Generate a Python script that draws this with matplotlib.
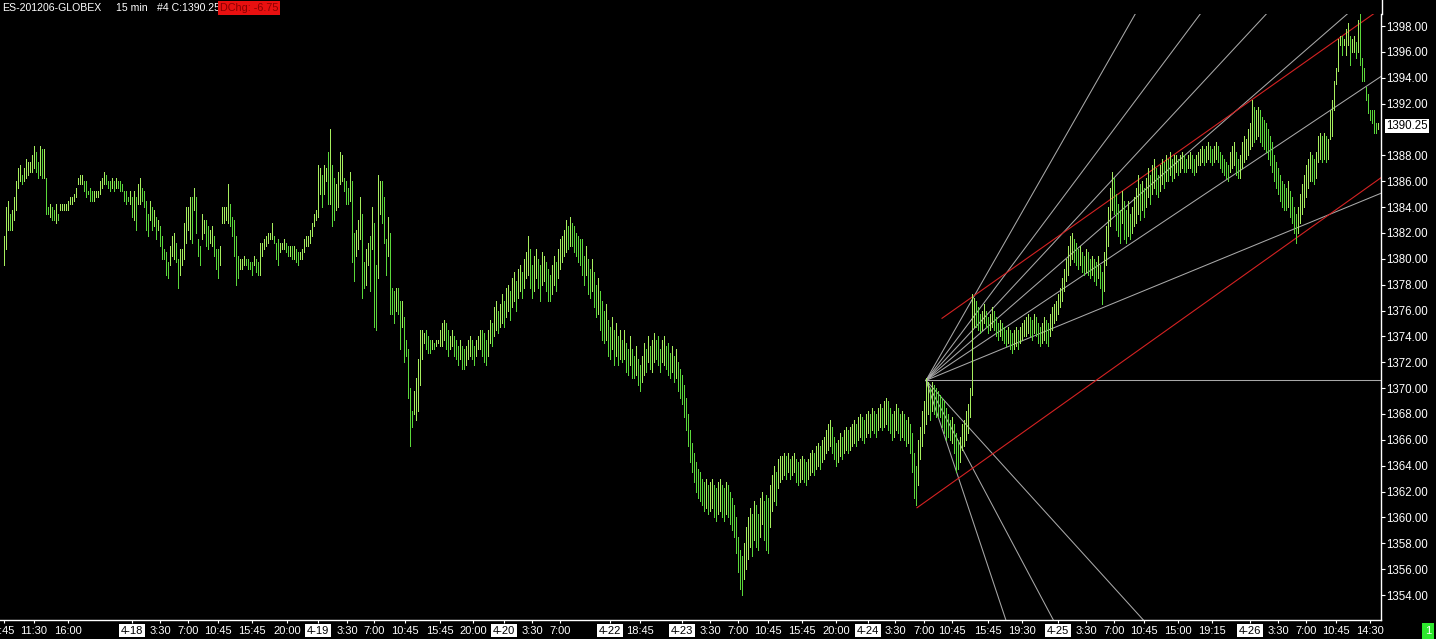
import matplotlib
matplotlib.use("Agg")
import matplotlib.pyplot as plt
from matplotlib.lines import Line2D
from matplotlib.transforms import blended_transform_factory
import numpy as np

plt.rcParams["font.family"] = ["Liberation Sans", "DejaVu Sans"]

# 15 min ES bars, high / low per bar (oldest first)
bar_high = [
    1381.75, 1384.0, 1384.5, 1383.5, 1383.75, 1384.75, 1386.0, 1387.0, 1387.25, 1386.5,
    1387.0, 1387.75, 1387.5, 1387.5, 1388.0, 1388.75, 1388.25, 1387.5, 1388.75, 1388.5,
    1388.5, 1386.25, 1384.0, 1384.25, 1384.0, 1383.75, 1384.25, 1383.5, 1384.25, 1384.25,
    1384.25, 1384.25, 1384.5, 1384.75, 1384.75, 1385.0, 1385.5, 1386.25, 1386.5, 1386.5,
    1386.0, 1386.0, 1385.25, 1385.5, 1385.25, 1385.25, 1385.25, 1385.25, 1386.0, 1386.25,
    1386.75, 1386.5, 1386.0, 1386.0, 1386.25, 1386.0, 1386.25, 1386.0, 1386.0, 1385.75,
    1385.25, 1385.25, 1384.75, 1385.25, 1384.75, 1385.25, 1384.75, 1385.75, 1386.25, 1385.5,
    1385.25, 1384.5, 1383.5, 1384.5, 1384.0, 1383.75, 1383.25, 1383.0, 1382.5, 1381.75,
    1380.75, 1380.5, 1379.75, 1381.0, 1381.75, 1382.0, 1381.25, 1380.0, 1380.75, 1380.75,
    1382.75, 1384.0, 1384.0, 1384.75, 1384.75, 1385.5, 1384.75, 1381.5, 1381.0, 1383.5,
    1383.0, 1383.0, 1382.5, 1382.25, 1382.5, 1381.75, 1380.75, 1380.75, 1381.0, 1384.0,
    1384.0, 1384.0, 1385.75, 1384.25, 1383.25, 1383.0, 1381.75, 1380.25, 1380.0, 1380.0,
    1380.25, 1380.0, 1380.0, 1379.75, 1379.75, 1380.25, 1380.0, 1379.75, 1381.25, 1381.25,
    1381.5, 1381.75, 1382.0, 1382.0, 1382.75, 1381.75, 1381.25, 1381.5, 1381.25, 1381.25,
    1381.5, 1381.25, 1381.0, 1381.0, 1381.0, 1381.0, 1380.75, 1380.5, 1380.5, 1380.75,
    1381.5, 1381.75, 1381.75, 1382.25, 1382.75, 1383.5, 1383.75, 1387.25, 1387.0, 1386.5,
    1387.25, 1387.0, 1388.25, 1390.0, 1387.25, 1386.25, 1385.75, 1386.75, 1388.25, 1388.0,
    1386.25, 1386.0, 1385.5, 1386.75, 1386.0, 1382.0, 1382.25, 1383.0, 1384.75, 1383.5,
    1379.75, 1380.75, 1381.25, 1381.75, 1384.0, 1382.75, 1379.5, 1386.5, 1386.0, 1386.0,
    1384.75, 1381.5, 1383.25, 1382.0, 1377.75, 1377.5, 1377.75, 1377.75, 1376.75, 1376.75,
    1375.5, 1373.75, 1373.0, 1370.0, 1368.25, 1369.75, 1370.75, 1372.25, 1374.5, 1374.5,
    1374.25, 1374.5, 1374.0, 1373.75, 1373.75, 1373.5, 1373.75, 1373.75, 1374.5, 1375.0,
    1375.25, 1375.0, 1374.5, 1374.0, 1374.5, 1374.0, 1373.75, 1373.25, 1373.75, 1373.25,
    1373.0, 1373.25, 1373.75, 1374.0, 1373.75, 1373.25, 1373.75, 1374.0, 1374.5, 1374.5,
    1374.25, 1373.75, 1374.5, 1375.25, 1375.0, 1376.25, 1376.75, 1376.0, 1376.5, 1377.25,
    1376.75, 1377.75, 1378.0, 1377.5, 1378.5, 1379.0, 1378.25, 1379.25, 1379.5, 1379.0,
    1380.0, 1380.5, 1381.75, 1380.75, 1379.5, 1380.25, 1380.75, 1380.0, 1379.5, 1380.5,
    1380.25, 1379.75, 1379.25, 1378.75, 1379.5, 1380.25, 1379.75, 1380.75, 1381.5, 1381.75,
    1382.25, 1383.0, 1382.5, 1383.25, 1382.75, 1382.5, 1382.0, 1381.75, 1381.5, 1381.5,
    1380.25, 1381.0, 1380.0, 1379.25, 1380.0, 1379.0, 1378.0, 1378.5, 1377.5, 1376.75,
    1376.0, 1376.5, 1375.25, 1374.75, 1375.5, 1374.5, 1375.0, 1374.0, 1374.5, 1373.75,
    1374.5, 1373.5, 1373.0, 1374.0, 1373.0, 1372.5, 1373.25, 1372.25, 1371.75, 1372.5,
    1373.5, 1373.0, 1374.0, 1373.25, 1373.75, 1374.25, 1373.75, 1374.0, 1373.0, 1373.75,
    1374.0, 1373.25, 1373.5, 1372.75, 1373.25, 1372.5, 1373.0, 1372.0, 1371.5, 1371.0,
    1370.25, 1369.25, 1368.0, 1366.75, 1365.75, 1365.0, 1364.25, 1363.75, 1363.5, 1363.0,
    1362.75, 1363.0, 1362.5, 1362.75, 1363.0, 1362.5, 1362.25, 1362.75, 1363.0, 1362.5,
    1362.25, 1362.75, 1362.5, 1362.0, 1361.5, 1361.0, 1360.0, 1358.5, 1357.5, 1357.0,
    1358.0, 1359.25, 1360.0, 1360.75, 1360.25, 1361.25, 1361.0, 1360.25, 1361.5, 1362.0,
    1361.25, 1361.75, 1361.5, 1362.5, 1363.25, 1364.0, 1363.5, 1364.5, 1364.75, 1364.75,
    1365.0, 1364.75, 1365.0, 1364.5, 1364.75, 1365.0, 1364.5, 1364.25, 1364.5, 1364.75,
    1364.5, 1364.25, 1364.5, 1365.0, 1365.25, 1365.0, 1365.5, 1365.75, 1365.5, 1366.0,
    1366.25, 1366.75, 1367.25, 1367.5, 1367.0, 1366.25, 1365.75, 1366.0, 1366.5, 1366.25,
    1366.75, 1367.0, 1366.75, 1367.0, 1367.25, 1367.5, 1367.25, 1367.75, 1368.0, 1367.75,
    1367.5, 1368.0, 1368.25, 1368.0, 1368.5, 1368.25, 1368.0, 1368.5, 1368.75, 1368.5,
    1369.0, 1369.25, 1369.0, 1368.5, 1368.0, 1368.25, 1368.75, 1368.5, 1368.0, 1368.25,
    1368.0, 1367.5, 1367.75, 1367.25, 1366.5, 1365.0, 1364.0, 1366.0, 1367.0, 1368.25,
    1369.0, 1370.75, 1370.5, 1370.0, 1370.5, 1370.25, 1370.0, 1369.75, 1369.5, 1369.25,
    1369.0, 1368.5, 1368.0, 1367.5, 1367.75, 1367.25, 1366.5, 1366.0, 1366.25, 1367.25,
    1367.5, 1368.25, 1368.75, 1370.0, 1377.25, 1377.0, 1376.75, 1376.25, 1375.75, 1376.0,
    1376.5, 1376.0, 1375.5, 1375.75, 1376.25, 1376.0, 1375.5, 1375.0, 1375.25, 1375.0,
    1374.75, 1374.5, 1374.75, 1374.5, 1374.25, 1374.5, 1374.75, 1374.5, 1374.75, 1375.0,
    1375.25, 1375.5, 1375.75, 1375.5, 1375.25, 1375.75, 1375.5, 1375.0, 1374.75, 1375.0,
    1375.5, 1375.25, 1375.0, 1375.75, 1376.25, 1376.5, 1376.75, 1377.25, 1377.75, 1378.5,
    1379.25, 1380.0, 1381.0, 1381.75, 1382.0, 1381.5, 1381.25, 1380.75, 1381.0, 1380.5,
    1380.25, 1380.75, 1380.5, 1380.0, 1380.25, 1380.0, 1379.75, 1380.25, 1379.5, 1379.0,
    1380.5, 1382.5, 1384.0, 1385.5, 1386.75, 1386.25, 1385.0, 1384.25, 1383.75, 1385.25,
    1384.5, 1383.75, 1384.5, 1383.5, 1384.0, 1384.75, 1385.5, 1386.5, 1385.75, 1386.0,
    1385.5, 1386.25, 1387.0, 1386.5, 1387.25, 1387.75, 1387.0, 1386.5, 1387.25, 1387.75,
    1387.5, 1388.0, 1387.75, 1388.25, 1387.75, 1388.0, 1388.0, 1387.75, 1388.0, 1388.25,
    1388.0, 1387.75, 1388.0, 1388.25, 1388.0, 1387.75, 1388.0, 1388.25, 1388.5, 1388.75,
    1388.5, 1388.75, 1389.0, 1388.75, 1388.5, 1388.75, 1389.0, 1388.75, 1388.25, 1388.0,
    1387.75, 1387.5, 1387.25, 1388.25, 1388.75, 1389.0, 1388.25, 1387.75, 1388.0, 1389.0,
    1389.5, 1389.25, 1390.0, 1390.5, 1392.25, 1391.75, 1391.5, 1391.75, 1391.5, 1391.0,
    1390.75, 1390.5, 1390.0, 1389.5, 1389.0, 1388.0, 1387.5, 1387.0, 1386.5, 1386.0,
    1385.75, 1385.5, 1386.0, 1385.25, 1384.75, 1384.0, 1383.5, 1384.0, 1385.0, 1385.75,
    1386.5, 1387.25, 1387.75, 1388.25, 1388.0, 1387.75, 1388.25, 1389.5, 1389.75, 1389.5,
    1389.75, 1389.5, 1389.25, 1391.5, 1392.25, 1393.75, 1394.75, 1397.0, 1397.25, 1397.25,
    1397.0, 1397.75, 1398.25, 1397.25, 1397.0, 1397.25, 1396.75, 1398.5, 1399.0, 1395.5,
    1394.75, 1393.25, 1392.75, 1391.5, 1391.5, 1391.5, 1390.5, 1390.5,
]
bar_low = [
    1379.5, 1380.75, 1382.25, 1382.25, 1382.25, 1383.0, 1383.75, 1385.5, 1386.0, 1385.75,
    1386.0, 1386.25, 1386.5, 1386.75, 1386.75, 1387.0, 1386.75, 1386.25, 1386.5, 1386.25,
    1386.25, 1383.5, 1383.5, 1383.25, 1383.0, 1383.0, 1382.75, 1383.0, 1383.75, 1383.75,
    1383.75, 1383.75, 1383.75, 1384.25, 1384.25, 1384.5, 1384.75, 1385.75, 1385.75, 1385.75,
    1385.25, 1384.75, 1385.0, 1384.5, 1384.5, 1384.5, 1384.75, 1384.75, 1385.0, 1385.5,
    1385.75, 1385.75, 1385.5, 1385.25, 1385.5, 1385.25, 1385.5, 1385.5, 1385.25, 1385.25,
    1384.5, 1384.25, 1384.5, 1384.25, 1383.25, 1383.0, 1382.25, 1384.25, 1384.25, 1384.5,
    1384.0, 1382.25, 1381.75, 1383.0, 1382.25, 1382.5, 1381.5, 1382.25, 1381.0, 1380.0,
    1380.0, 1378.75, 1378.5, 1379.5, 1380.25, 1380.0, 1379.75, 1377.75, 1378.75, 1379.5,
    1380.0, 1381.25, 1382.25, 1381.5, 1381.25, 1383.75, 1382.0, 1380.25, 1379.5, 1381.5,
    1382.0, 1381.0, 1380.75, 1381.25, 1381.0, 1380.25, 1379.25, 1378.5, 1379.5, 1382.75,
    1382.75, 1383.0, 1382.75, 1382.5, 1381.75, 1380.25, 1378.0, 1378.5, 1379.25, 1379.25,
    1379.5, 1379.5, 1379.25, 1379.25, 1378.75, 1379.5, 1379.0, 1378.75, 1378.75, 1380.25,
    1380.75, 1381.0, 1381.25, 1381.5, 1381.5, 1381.25, 1380.0, 1379.5, 1380.5, 1380.75,
    1380.75, 1380.5, 1380.25, 1380.25, 1380.0, 1380.0, 1379.75, 1379.5, 1380.0, 1380.0,
    1380.5, 1381.0, 1381.0, 1381.25, 1381.75, 1382.5, 1383.0, 1383.25, 1385.0, 1384.0,
    1385.0, 1386.0, 1384.25, 1384.25, 1382.5, 1383.0, 1383.75, 1384.0, 1385.75, 1386.0,
    1385.25, 1384.25, 1384.25, 1384.5, 1379.75, 1378.25, 1380.25, 1380.75, 1381.5, 1377.0,
    1377.75, 1378.0, 1379.5, 1377.5, 1380.75, 1374.75, 1374.5, 1378.5, 1383.5, 1382.75,
    1381.25, 1378.75, 1380.25, 1375.75, 1375.75, 1375.0, 1376.0, 1375.75, 1373.0, 1374.75,
    1372.0, 1372.5, 1369.25, 1365.5, 1367.0, 1368.0, 1367.5, 1368.25, 1370.25, 1372.25,
    1373.5, 1373.0, 1372.75, 1372.75, 1373.0, 1373.0, 1373.25, 1373.5, 1373.25, 1373.25,
    1373.75, 1373.0, 1372.5, 1373.0, 1373.25, 1372.5, 1372.25, 1371.75, 1372.25, 1371.5,
    1371.5, 1371.75, 1372.25, 1372.5, 1372.25, 1371.75, 1372.5, 1373.0, 1373.0, 1372.5,
    1372.0, 1371.75, 1372.5, 1373.5, 1373.25, 1374.0, 1374.5, 1374.25, 1374.75, 1375.0,
    1374.75, 1375.5, 1376.0, 1375.25, 1376.25, 1376.75, 1376.0, 1377.0, 1377.5, 1377.0,
    1377.75, 1378.5, 1378.75, 1377.75, 1377.0, 1377.5, 1378.5, 1377.75, 1376.75, 1378.0,
    1378.25, 1377.5, 1376.75, 1376.75, 1377.25, 1378.0, 1377.5, 1378.5, 1379.25, 1379.75,
    1380.25, 1380.5, 1380.75, 1381.0, 1381.0, 1380.5, 1380.25, 1379.75, 1379.5, 1378.75,
    1378.0, 1378.75, 1377.25, 1377.0, 1377.5, 1376.25, 1375.5, 1375.75, 1374.5, 1373.75,
    1373.5, 1373.75, 1372.5, 1372.25, 1373.0, 1371.75, 1372.5, 1371.75, 1372.25, 1372.0,
    1372.25, 1371.25, 1371.0, 1371.75, 1370.75, 1370.75, 1371.0, 1370.25, 1369.75, 1370.5,
    1371.0, 1371.25, 1372.0, 1371.5, 1371.25, 1372.0, 1372.25, 1371.75, 1371.25, 1372.0,
    1371.75, 1371.5, 1371.0, 1370.75, 1371.25, 1370.5, 1370.75, 1369.75, 1369.25, 1368.75,
    1367.75, 1366.75, 1365.5, 1364.25, 1363.5, 1362.75, 1362.0, 1361.5, 1361.25, 1361.0,
    1360.5, 1360.75, 1360.25, 1360.5, 1360.75, 1360.0, 1359.75, 1360.25, 1360.5, 1360.0,
    1359.75, 1360.25, 1360.0, 1359.5, 1359.0, 1358.5, 1357.25, 1355.75, 1354.5, 1354.0,
    1355.25, 1356.0, 1356.75, 1357.75, 1357.0, 1358.25, 1357.75, 1357.5, 1358.5, 1359.5,
    1358.25, 1357.5, 1357.25, 1359.25, 1360.5, 1361.25, 1361.0, 1362.25, 1362.75, 1363.0,
    1363.25, 1363.0, 1363.5, 1363.0, 1363.25, 1363.5, 1362.75, 1362.5, 1362.75, 1363.0,
    1362.75, 1362.5, 1363.0, 1363.25, 1363.5, 1363.25, 1363.75, 1364.0, 1363.75, 1364.25,
    1364.5, 1365.0, 1365.25, 1365.5, 1365.0, 1364.5, 1364.0, 1364.25, 1364.75, 1364.5,
    1365.0, 1365.25, 1365.0, 1365.25, 1365.5, 1365.75, 1365.5, 1366.0, 1366.25, 1366.0,
    1365.75, 1366.25, 1366.5, 1366.25, 1366.75, 1366.5, 1366.25, 1366.75, 1367.0, 1366.75,
    1367.0, 1367.25, 1366.75, 1366.5, 1366.0, 1366.25, 1366.75, 1366.5, 1366.0, 1366.25,
    1366.0, 1365.5, 1365.75, 1365.0, 1363.5, 1361.5, 1361.0, 1362.5, 1364.5, 1365.5,
    1366.5, 1367.25, 1368.0, 1367.5, 1368.25, 1368.0, 1367.75, 1367.75, 1367.75, 1367.0,
    1366.5, 1366.0, 1366.25, 1366.0, 1365.75, 1365.0, 1363.5, 1363.75, 1364.25, 1365.25,
    1365.5, 1366.0, 1366.5, 1367.75, 1369.5, 1374.75, 1374.75, 1374.5, 1374.25, 1374.5,
    1375.0, 1374.75, 1374.25, 1374.5, 1374.75, 1374.5, 1374.0, 1373.75, 1374.0, 1373.75,
    1373.5, 1373.25, 1373.5, 1373.0, 1372.75, 1373.0, 1373.25, 1373.0, 1373.5, 1373.75,
    1374.0, 1374.0, 1374.25, 1374.0, 1373.75, 1374.25, 1374.0, 1373.5, 1373.25, 1373.5,
    1373.75, 1373.5, 1373.25, 1374.0, 1374.5, 1375.0, 1375.25, 1375.75, 1376.25, 1376.75,
    1377.5, 1378.25, 1378.75, 1379.5, 1380.0, 1379.75, 1379.5, 1379.25, 1379.5, 1379.0,
    1378.75, 1379.0, 1378.75, 1378.5, 1378.75, 1378.25, 1378.0, 1378.5, 1377.75, 1376.5,
    1377.5, 1379.5, 1381.0, 1382.5, 1383.75, 1383.5, 1382.25, 1381.75, 1381.25, 1382.75,
    1381.5, 1381.25, 1381.75, 1381.5, 1382.0, 1382.5, 1382.75, 1383.5, 1383.0, 1383.75,
    1383.25, 1384.0, 1384.75, 1384.25, 1385.0, 1385.5, 1385.0, 1384.75, 1385.25, 1385.75,
    1385.5, 1386.0, 1386.0, 1386.5, 1386.0, 1386.25, 1386.75, 1386.5, 1386.75, 1387.0,
    1386.75, 1386.75, 1387.0, 1387.0, 1386.75, 1386.5, 1386.75, 1387.25, 1387.25, 1387.5,
    1387.25, 1387.5, 1387.75, 1387.5, 1387.25, 1387.5, 1387.75, 1387.5, 1387.0, 1386.75,
    1386.5, 1386.25, 1386.0, 1386.75, 1387.0, 1387.25, 1386.5, 1386.25, 1386.25, 1387.0,
    1387.5, 1387.75, 1388.0, 1388.5, 1388.75, 1389.0, 1389.25, 1389.5, 1389.0, 1388.75,
    1388.5, 1388.25, 1387.75, 1387.25, 1386.75, 1386.0, 1385.5, 1385.0, 1384.5, 1384.0,
    1383.75, 1383.75, 1384.0, 1383.25, 1382.75, 1382.0, 1381.25, 1382.0, 1382.75, 1383.5,
    1384.0, 1384.75, 1385.5, 1386.0, 1386.0, 1385.75, 1386.25, 1387.5, 1387.75, 1387.5,
    1387.75, 1387.5, 1387.75, 1389.25, 1389.5, 1391.5, 1393.5, 1394.5, 1396.5, 1395.75,
    1396.5, 1395.75, 1396.5, 1395.0, 1396.0, 1396.0, 1395.5, 1396.0, 1395.0, 1393.75,
    1393.75, 1392.25, 1391.25, 1390.75, 1390.5, 1389.75, 1389.75, 1390.0,
]

title_parts = ["ES-201206-GLOBEX", "15 min", "#4 C:1390.25"]
change_text = "DChg: -6.75"
last_price = 1390.25

# time axis: bar index of each label
time_ticks = [0, 15, 32, 64, 78, 92, 107, 124, 141.5, 157, 171.5, 185, 200.5, 218,
              234.5, 250, 264, 278, 303, 318, 339, 353, 367, 382, 399, 416, 432,
              445.5, 460, 474, 492, 509, 527, 541, 555, 570, 587, 604, 623, 637,
              651, 666, 683]
time_labels = ["7:45", "11:30", "16:00", "4-18", "3:30", "7:00", "10:45", "15:45",
               "20:00", "4-19", "3:30", "7:00", "10:45", "15:45", "20:00", "4-20",
               "3:30", "7:00", "4-22", "18:45", "4-23", "3:30", "7:00", "10:45",
               "15:45", "20:00", "4-24", "3:30", "7:00", "10:45", "15:45", "19:30",
               "4-25", "3:30", "7:00", "10:45", "15:00", "19:15", "4-26", "3:30",
               "7:00", "10:45", "14:30"]
price_ticks = [p for p in range(1354, 1399, 2) if p != 1390]

# drawing tools: fan from the 4-24 pivot and a parallel channel
fan_origin_bar = 461
fan_origin_price = 1370.6
fan_slopes = [0.2708, 0.2066, 0.1665, 0.1345, 0.1033, 0.0636, 0.0,
              -0.1705, -0.291, -0.464]
channel_bar = [469, 456.5]
channel_price = [1375.4, 1360.75]
channel_slope = [0.1091, 0.110]

W, H = 1436, 639
fig = plt.figure(figsize=(W / 100, H / 100), dpi=100, facecolor="black")
ax = fig.add_axes([0, (H - 620) / H, 1381 / W, 606 / H], facecolor="black")
ax.set_xlim(-2, 688.5)
ax.set_ylim(1352.07, 1398.93)

x = np.arange(len(bar_high))
hi = np.array(bar_high)
lo = np.array(bar_low)
mid = (hi + lo) / 2
up = np.r_[True, mid[1:] >= mid[:-1]]
cols = np.where(up, "#a6ee5e", "#5ad83a")
ax.vlines(x, lo, hi, colors=cols, linewidth=0.72, antialiased=False, zorder=3)

xe = np.array([fan_origin_bar, 720])
for s in fan_slopes:
    ax.plot(xe, fan_origin_price + s * (xe - fan_origin_bar),
            color="#a9a9a9", lw=0.75, zorder=2)
for b0, p0, s in zip(channel_bar, channel_price, channel_slope):
    xc = np.array([b0, 720])
    ax.plot(xc, p0 + s * (xc - b0), color="#d42222", lw=0.8, zorder=2)

for side in ["top", "left"]:
    ax.spines[side].set_visible(False)
for side in ["bottom", "right"]:
    ax.spines[side].set_color("white")
    ax.spines[side].set_linewidth(1.0)
fig.add_artist(Line2D([1381.5 / W] * 2, [1 - 14 / H, 1], color="white", lw=1.0))

ax.set_xticks(time_ticks)
ax.set_xticklabels(time_labels)
ax.tick_params(axis="x", colors="white", length=2.5, width=0.8, pad=1.5,
               labelsize=8, labelcolor="white")
for lab in ax.get_xticklabels():
    if "-" in lab.get_text():
        lab.set_color("black")
        lab.set_bbox(dict(boxstyle="square,pad=0.15", fc="white", ec="none"))

ax.yaxis.tick_right()
ax.set_yticks(price_ticks)
ax.set_yticklabels([f"{p:.2f}" for p in price_ticks])
ax.tick_params(axis="y", colors="white", length=3, width=0.8, pad=1,
               labelsize=8.3, labelcolor="white")

tr = blended_transform_factory(ax.transAxes, ax.transData)
ax.text(1386 / 1381, last_price, f"{last_price:.2f}", transform=tr, ha="left",
        va="center", fontsize=8.3, color="black", clip_on=False,
        bbox=dict(boxstyle="square,pad=0.1", fc="white", ec="none"))

for xp, part in zip([2, 116, 157], title_parts):
    fig.text(xp / W, 1 - 8 / H, part, color="white", fontsize=7.6, va="center")
fig.text(220 / W, 1 - 8 / H, change_text, color="#8a0000", fontsize=7.8, va="center",
         bbox=dict(boxstyle="square,pad=0.15", fc="#e81010", ec="none"))
fig.text(1428 / W, 1 - 631 / H, "1", color="white", fontsize=8, ha="center",
         va="center", bbox=dict(boxstyle="square,pad=0.25", fc="#2ee82e", ec="none"))

fig.savefig("out.png", dpi=100, facecolor="black")
